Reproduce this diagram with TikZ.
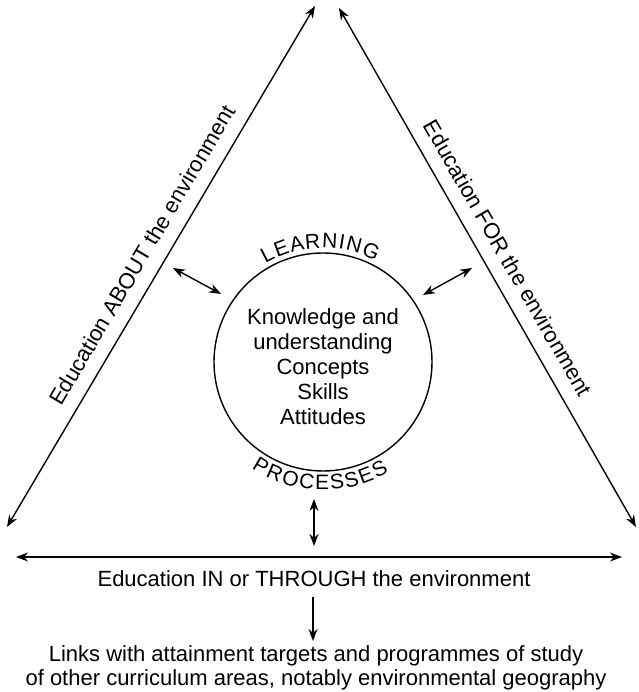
\documentclass[tikz,border=0pt]{standalone}
\usepackage{fontspec}
\setmainfont{Liberation Sans}
\usetikzlibrary{arrows.meta}
\begin{document}
\begin{tikzpicture}[x=1pt,y=1pt,
  tipst/.tip={Stealth[length=12pt,width=9pt]},
  dbl/.style={line width=1.4pt,{tipst}-{tipst}},
  sgl/.style={line width=1.4pt,-{tipst}},
  main/.style={font=\fontsize{22}{25}\selectfont, inner sep=0pt},
  lab/.style={font=\fontsize{22}{25}\selectfont, inner sep=0pt},
  arcl/.style={font=\fontsize{21}{22}\selectfont, inner sep=0pt, anchor=base}]
\fill[white] (0,0) rectangle (638,692);
\useasboundingbox (0,0) rectangle (638,692);

% triangle sides
\coordinate (apexL) at (315,686);
\coordinate (baseL) at (7,165);
\coordinate (apexR) at (339,684);
\coordinate (baseR) at (636,165);
\draw[dbl] (baseL) -- (apexL);
\draw[dbl] (baseR) -- (apexR);

% bottom line
\coordinate (hl) at (16,135);
\coordinate (hr) at (622,135);
\draw[dbl] (hl) -- (hr);

% side labels
\node[lab, rotate=59.4] (about) at (142,437) {Education ABOUT the environment};
\node[lab, rotate=-60.1] (for) at (508,434) {Education FOR the environment};

% circle
\coordinate (c) at (323,330);
\node[draw, circle, minimum size=218pt, line width=1.4pt, inner sep=0pt] (circ) at (c) {};
\node[main, align=center] (know) at (323,325) {Knowledge and\\understanding\\Concepts\\Skills\\Attitudes};

% arc texts
\foreach \ch/\a [count=\i] in {L/117.4, E/110.2, A/102.6, R/94.9, N/86.8, I/80.9, N/75.0, G/66.6}
  \path (c) ++(\a:114) node[arcl, rotate=\a-90] (learn\i) {\ch};
\foreach \ch/\a [count=\i] in {P/239.2, R/246.6, O/254.5, C/262.3, E/269.6, S/276.6, S/283.6, E/290.7, S/297.8}
  \path (c) ++(\a:128) node[arcl, rotate=\a+90] (proc\i) {\ch};

% small arrows
\coordinate (a1) at (173,424);
\coordinate (a2) at (221,398);
\draw[dbl] (a1) -- (a2);
\coordinate (b1) at (423,397);
\coordinate (b2) at (472,424);
\draw[dbl] (b1) -- (b2);
\coordinate (v1) at (314,193);
\coordinate (v2) at (314,146);
\draw[dbl] (v1) -- (v2);

% bottom texts
\node[main, anchor=base] (through) at (314,105) {Education IN or THROUGH the environment};
\node[main, align=center, font=\fontsize{22}{24}\selectfont] (links) at (316,24) {Links with attainment targets and programmes of study\\of other curriculum areas, notably environmental geography};
\coordinate (d1) at (313,95);
\coordinate (d2) at (313,51);
\draw[sgl] (d1) -- (d2);
\end{tikzpicture}
\end{document}
